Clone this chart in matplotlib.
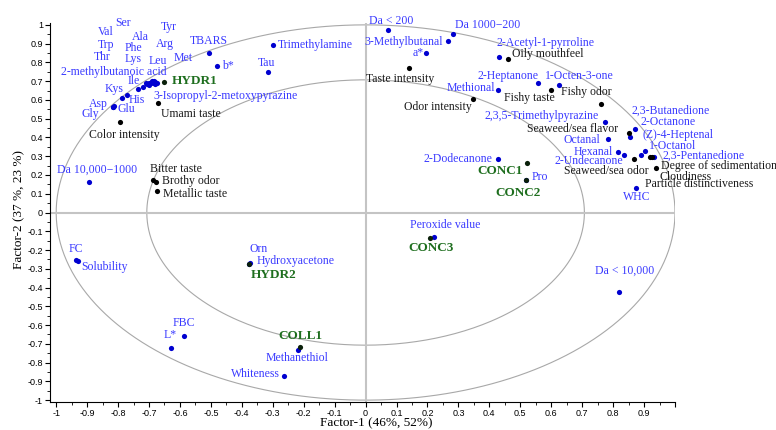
import numpy as np
import matplotlib
matplotlib.use("Agg")
import matplotlib.pyplot as plt
from matplotlib.ticker import MultipleLocator, FuncFormatter

# X variables (blue)
var_names = ["Ser", "Val", "Trp", "Thr", "Ala", "Phe", "Lys", "Tyr", "Arg", "Met", "Leu",
             "2-methylbutanoic acid", "Ile", "Kys", "His", "Asp", "Glu", "Gly",
             "3-Isopropyl-2-metoxypyrazine", "TBARS", "b*", "Tau", "Trimethylamine",
             "Da < 200", "Da 1000\u2212200", "3-Methylbutanal", "a*", "2-Acetyl-1-pyrroline",
             "2-Heptanone", "1-Octen-3-one", "Methional", "2,3,5-Trimethylpyrazine", "Octanal",
             "2,3-Butanedione", "2-Octanone", "(Z)-4-Heptenal", "1-Octanol", "Hexanal",
             "2-Undecanone", "2,3-Pentanedione", "WHC", "2-Dodecanone", "Pro",
             "Da 10,000\u22121000", "FC", "Solubility", "Orn", "Hydroxyacetone",
             "Peroxide value", "Da < 10,000", "FBC", "L*", "Methanethiol", "Whiteness"]
var_x = [-0.70, -0.71, -0.70, -0.705, -0.69, -0.695, -0.685, -0.68, -0.685, -0.675, -0.68,
         -0.72, -0.735, -0.788, -0.772, -0.817, -0.812, -0.818,
         -0.69, -0.507, -0.481, -0.317, -0.30,
         0.074, 0.283, 0.267, 0.196, 0.432,
         0.556, 0.624, 0.429, 0.774, 0.784,
         0.871, 0.855, 0.889, 0.904, 0.815,
         0.836, 0.932, 0.873, 0.428, 0.519,
         -0.895, -0.937, -0.929, -0.372, -0.376,
         0.222, 0.82, -0.586, -0.629, -0.22, -0.265]
var_y = [0.69, 0.69, 0.68, 0.685, 0.70, 0.69, 0.69, 0.695, 0.70, 0.69, 0.685,
         0.67, 0.66, 0.61, 0.628, 0.564, 0.57, 0.56,
         0.695, 0.851, 0.782, 0.75, 0.893,
         0.973, 0.95, 0.915, 0.85, 0.831,
         0.688, 0.679, 0.654, 0.48, 0.39,
         0.447, 0.40, 0.307, 0.33, 0.323,
         0.307, 0.298, 0.13, 0.285, 0.172,
         0.163, -0.252, -0.257, -0.27, -0.273,
         -0.129, -0.422, -0.658, -0.722, -0.734, -0.874]

# Sensory attributes (black)
sens_names = ["Color intensity", "Umami taste", "Taste intensity", "Oily mouthfeel",
              "Fishy taste", "Odor intensity", "Fishy odor", "Seaweed/sea flavor",
              "Seaweed/sea odor", "Cloudiness", "Particle distinctiveness",
              "Degree of sedimentation", "Bitter taste", "Brothy odor", "Metallic taste"]
sens_x = [-0.794, -0.672, 0.141, 0.46, 0.599, 0.348, 0.76, 0.852,
          0.869, 0.92, 0.925, 0.938, -0.686, -0.677, -0.674]
sens_y = [0.484, 0.585, 0.771, 0.819, 0.654, 0.605, 0.578, 0.424,
          0.287, 0.298, 0.294, 0.239, 0.172, 0.165, 0.113]

# Samples (green)
samp_names = ["HYDR1", "HYDR2", "CONC1", "CONC2", "CONC3", "COLL1"]
samp_x = [-0.652, -0.376, 0.523, 0.519, 0.208, -0.213]
samp_y = [0.697, -0.273, 0.264, 0.172, -0.138, -0.718]

# where each name is written: (x, y, ha)
label_pos = {
    "Ser": (-0.785, 1.012, "center"), "Val": (-0.84, 0.963, "center"),
    "Trp": (-0.84, 0.894, "center"), "Thr": (-0.85, 0.83, "center"),
    "Ala": (-0.727, 0.936, "center"), "Phe": (-0.749, 0.877, "center"),
    "Lys": (-0.753, 0.818, "center"), "Tyr": (-0.636, 0.989, "center"),
    "Arg": (-0.649, 0.90, "center"), "Met": (-0.59, 0.824, "center"),
    "Leu": (-0.672, 0.808, "center"),
    "2-methylbutanoic acid": (-0.814, 0.75, "center"),
    "Ile": (-0.75, 0.70, "center"), "Kys": (-0.814, 0.66, "center"),
    "His": (-0.74, 0.597, "center"), "Asp": (-0.863, 0.576, "center"),
    "Glu": (-0.773, 0.553, "center"), "Gly": (-0.891, 0.527, "center"),
    "3-Isopropyl-2-metoxypyrazine": (-0.685, 0.623, "left"),
    "TBARS": (-0.507, 0.915, "center"), "b*": (-0.465, 0.782, "left"),
    "Tau": (-0.32, 0.798, "center"), "Trimethylamine": (-0.284, 0.894, "left"),
    "Da < 200": (0.084, 1.02, "center"), "Da 1000\u2212200": (0.29, 1.0, "left"),
    "3-Methylbutanal": (0.249, 0.91, "right"), "a*": (0.187, 0.85, "right"),
    "2-Acetyl-1-pyrroline": (0.423, 0.904, "left"),
    "2-Heptanone": (0.459, 0.729, "center"), "1-Octen-3-one": (0.581, 0.729, "left"),
    "Methional": (0.42, 0.665, "right"),
    "2,3,5-Trimethylpyrazine": (0.568, 0.516, "center"),
    "Octanal": (0.759, 0.388, "right"),
    "2,3-Butanedione": (0.859, 0.543, "left"), "2-Octanone": (0.888, 0.484, "left"),
    "(Z)-4-Heptenal": (0.895, 0.415, "left"), "1-Octanol": (0.917, 0.356, "left"),
    "Hexanal": (0.798, 0.324, "right"), "2-Undecanone": (0.832, 0.277, "right"),
    "2,3-Pentanedione": (0.959, 0.303, "left"), "WHC": (0.875, 0.08, "center"),
    "2-Dodecanone": (0.41, 0.287, "right"), "Pro": (0.536, 0.191, "left"),
    "Da 10,000\u22121000": (-0.869, 0.229, "center"), "FC": (-0.937, -0.197, "center"),
    "Solubility": (-0.92, -0.293, "left"), "Orn": (-0.346, -0.197, "center"),
    "Hydroxyacetone": (-0.352, -0.261, "left"),
    "Peroxide value": (0.258, -0.069, "center"), "Da < 10,000": (0.837, -0.309, "center"),
    "FBC": (-0.588, -0.59, "center"), "L*": (-0.633, -0.653, "center"),
    "Methanethiol": (-0.223, -0.777, "center"), "Whiteness": (-0.278, -0.862, "right"),
    "Color intensity": (-0.779, 0.415, "center"), "Umami taste": (-0.66, 0.527, "left"),
    "Taste intensity": (0.113, 0.713, "center"), "Oily mouthfeel": (0.472, 0.846, "left"),
    "Fishy taste": (0.53, 0.612, "center"), "Odor intensity": (0.233, 0.564, "center"),
    "Fishy odor": (0.633, 0.644, "left"), "Seaweed/sea flavor": (0.669, 0.447, "center"),
    "Seaweed/sea odor": (0.914, 0.223, "right"), "Cloudiness": (0.95, 0.191, "left"),
    "Particle distinctiveness": (0.904, 0.154, "left"),
    "Degree of sedimentation": (0.956, 0.25, "left"),
    "Bitter taste": (-0.614, 0.234, "center"), "Brothy odor": (-0.659, 0.167, "left"),
    "Metallic taste": (-0.656, 0.099, "left"),
    "HYDR1": (-0.627, 0.702, "left"), "HYDR2": (-0.371, -0.335, "left"),
    "CONC1": (0.433, 0.223, "center"), "CONC2": (0.494, 0.106, "center"),
    "CONC3": (0.21, -0.191, "center"), "COLL1": (-0.21, -0.658, "center"),
}

serif = "Liberation Serif"
blue_txt = "#3a3aff"
green_txt = "#1e6e1e"

fig = plt.figure(figsize=(7.76, 4.30), dpi=100)
ax = fig.add_axes([50 / 776, 28 / 430, 625 / 776, 379 / 430])
ax.set_xlim(-1.02, 1.0)
ax.set_ylim(-1.01, 1.01)

# correlation circles (100% and 50% explained variance)
t = np.linspace(0, 2 * np.pi, 400)
for r in (1.0, np.sqrt(0.5)):
    ax.plot(r * np.cos(t), r * np.sin(t), color="#a8a8a8", lw=0.8, zorder=1)
ax.axhline(0, color="#c4c4c4", lw=1.5, zorder=1)
ax.axvline(0, color="#c4c4c4", lw=1.5, zorder=1)

ax.scatter(var_x, var_y, s=14, color="#0000d0", zorder=3, linewidths=0)
ax.scatter(sens_x, sens_y, s=14, color="black", zorder=4, linewidths=0)
ax.scatter(samp_x, samp_y, s=14, color="#0a200a", zorder=5, linewidths=0)

for names, color, weight, size in [(var_names, blue_txt, "normal", 8.5),
                                   (sens_names, "#1a1a1a", "normal", 8.5),
                                   (samp_names, green_txt, "bold", 9.5)]:
    for n in names:
        tx, ty, ha = label_pos[n]
        ax.text(tx, ty, n, ha=ha, va="center", color=color, fontsize=size,
                fontweight=weight, family=serif, clip_on=False, zorder=6)

for side in ("top", "right"):
    ax.spines[side].set_visible(False)
ax.xaxis.set_major_locator(MultipleLocator(0.1))
ax.xaxis.set_minor_locator(MultipleLocator(0.05))
ax.yaxis.set_major_locator(MultipleLocator(0.1))
ax.yaxis.set_minor_locator(MultipleLocator(0.05))
ax.xaxis.set_major_formatter(FuncFormatter(lambda v, p: "" if v > 0.95 else "%g" % round(v, 2)))
ax.yaxis.set_major_formatter(FuncFormatter(lambda v, p: "%g" % round(v, 2)))
ax.tick_params(which="major", direction="out", length=3.5, width=0.8, labelsize=6.5, pad=1.5)
ax.tick_params(which="minor", direction="out", length=2, width=0.6)
for lab in ax.get_xticklabels() + ax.get_yticklabels():
    lab.set_family("Liberation Sans")

fig.text(376 / 776, (430 - 423.5) / 430, "Factor-1 (46%, 52%)", ha="center", va="center",
         family=serif, fontsize=9.5)
ax.set_ylabel("Factor-2 (37 %, 23 %)", family=serif, fontsize=9.5)
ax.yaxis.set_label_coords(-0.0496, 0.509)
ax.yaxis.label.set_verticalalignment("center")

fig.savefig("out.png", dpi=100)
